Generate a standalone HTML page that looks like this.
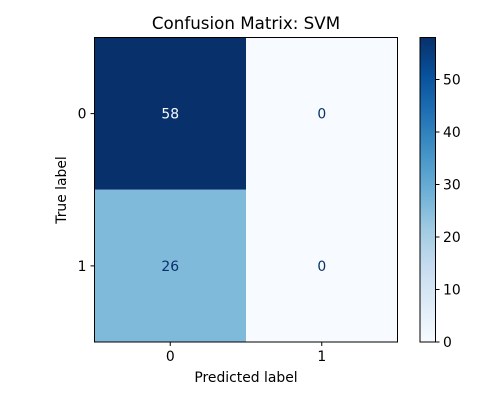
<!DOCTYPE html>
<html><head><meta charset="utf-8"><style>
body{margin:0;background:#fff;}
svg text{font-family:"DejaVu Sans","Liberation Sans",sans-serif;}
</style></head><body>
<svg id="chart" width="500" height="400" xmlns="http://www.w3.org/2000/svg">
<defs>
<linearGradient id="blues" x1="0" y1="1" x2="0" y2="0">
<stop offset="0" stop-color="#f7fbff"/><stop offset="0.125" stop-color="#deebf7"/><stop offset="0.25" stop-color="#c6dbef"/><stop offset="0.375" stop-color="#9ecae1"/><stop offset="0.5" stop-color="#6baed6"/><stop offset="0.625" stop-color="#4292c6"/><stop offset="0.75" stop-color="#2171b5"/><stop offset="0.875" stop-color="#08519c"/><stop offset="1" stop-color="#08306b"/>
</linearGradient>
</defs>
<text x="246" y="29" font-size="16.7" text-anchor="middle">Confusion Matrix: SVM</text>
<g id="cells"></g>
<rect x="94.5" y="37.5" width="303" height="304.5" fill="none" stroke="#000" stroke-width="1"/>
<g id="axes"></g>
<text x="246" y="382" font-size="13.9" text-anchor="middle">Predicted label</text>
<text transform="translate(66,190) rotate(-90)" font-size="13.9" text-anchor="middle">True label</text>
<rect x="420" y="37.5" width="15.5" height="304.5" fill="url(#blues)" stroke="#000" stroke-width="1"/>
<g id="cbticks"></g>
</svg>
<script>
const trueLabels = ["0","1"];
const predLabels = ["0","1"];
const values = [[58,0],[26,0]];
const cbTicks = [0,10,20,30,40,50];

const L=94.5,R=397.5,T=37.5,B=342;
const vmin=0, vmax=Math.max(...values.flat());
const cw=(R-L)/predLabels.length, ch=(B-T)/trueLabels.length;
const stops=[[247,251,255],[222,235,247],[198,219,239],[158,202,225],[107,174,214],[66,146,198],[33,113,181],[8,81,156],[8,48,107]];
function color(v){let t=(v-vmin)/(vmax-vmin||1);t=Math.max(0,Math.min(1,t))*8;const i=Math.min(7,Math.floor(t)),f=t-i;const a=stops[i],b=stops[i+1];return `rgb(${a.map((c,k)=>Math.round(c+(b[k]-c)*f)).join(',')})`;}
const NS="http://www.w3.org/2000/svg";
function mk(tag,attrs,parent){const e=document.createElementNS(NS,tag);for(const k in attrs)e.setAttribute(k,attrs[k]);parent.appendChild(e);return e;}
const cells=document.getElementById('cells'),axes=document.getElementById('axes'),cb=document.getElementById('cbticks');
values.forEach((row,i)=>row.forEach((v,j)=>{
  const r=mk('rect',{x:L+j*cw,y:T+i*ch,width:cw,height:ch,fill:color(v)},cells);
  
  
  const t=mk('text',{x:L+(j+0.5)*cw,y:T+(i+0.5)*ch+5,'font-size':13.9,'text-anchor':'middle',fill:(v-vmin)/(vmax-vmin)>0.5?'#f7fbff':'#08306b'},cells);
  t.textContent=v;
  
  
}));
predLabels.forEach((lab,j)=>{const x=L+(j+0.5)*cw;
  mk('line',{x1:x,x2:x,y1:B,y2:B+4,stroke:'#000'},axes);
  const t=mk('text',{x:x,y:B+19,'font-size':13.9,'text-anchor':'middle'},axes);t.textContent=lab;
  
  });
trueLabels.forEach((lab,i)=>{const y=T+(i+0.5)*ch;
  mk('line',{x1:L-4,x2:L,y1:y,y2:y,stroke:'#000'},axes);
  const t=mk('text',{x:L-8,y:y+5,'font-size':13.9,'text-anchor':'end'},axes);t.textContent=lab;
  
  });
cbTicks.forEach(v=>{const y=B-(v-vmin)/(vmax-vmin)*(B-T);
  mk('line',{x1:435.5,x2:439.5,y1:y,y2:y,stroke:'#000'},cb);
  const t=mk('text',{x:443,y:y+5,'font-size':13.9},cb);t.textContent=v;
  
  });
</script>
</body></html>
